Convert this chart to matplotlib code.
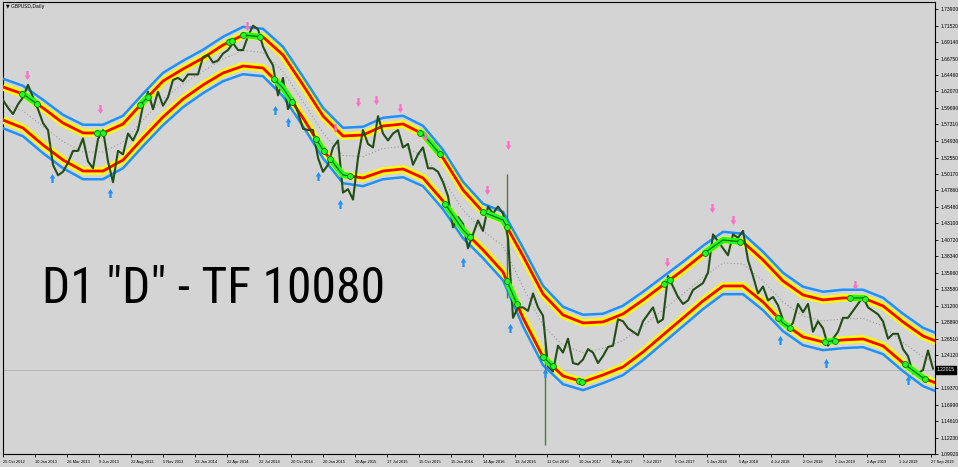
import numpy as np
import matplotlib
matplotlib.use("Agg")
import matplotlib.pyplot as plt
from matplotlib.path import Path
from matplotlib import font_manager

# ---------------- data ----------------
date_labels = ["25 Oct 2012", "10 Jan 2013", "26 Mar 2013", "9 Jun 2013", "22 Aug 2013",
               "5 Nov 2013", "23 Jan 2014", "22 Apr 2014", "22 Jul 2014", "20 Oct 2014",
               "20 Jan 2015", "20 Apr 2015", "17 Jul 2015", "15 Oct 2015", "15 Jan 2016",
               "14 Apr 2016", "13 Jul 2016", "11 Oct 2016", "10 Jan 2017", "10 Apr 2017",
               "7 Jul 2017", "5 Oct 2017", "5 Jan 2018", "5 Apr 2018", "4 Jul 2018",
               "2 Oct 2018", "2 Jan 2019", "2 Apr 2019", "1 Jul 2019", "27 Sep 2019"]
bars_per_label = 64

price_labels = ["1.73900", "1.71520", "1.69140", "1.66750", "1.64460", "1.62070", "1.59690",
                "1.57310", "1.54930", "1.52550", "1.50170", "1.47860", "1.45480", "1.43100",
                "1.40720", "1.38340", "1.35960", "1.33580", "1.31200", "1.28890", "1.26510",
                "1.24120", "1.19370", "1.16990", "1.14610", "1.12230", "1.09920"]

# closing prices, one value every 10 daily bars
close_step = 10
close = [1.608, 1.597, 1.588, 1.602, 1.612, 1.630, 1.612, 1.595, 1.575, 1.565,
         1.515, 1.500, 1.505, 1.518, 1.535, 1.535, 1.553, 1.520, 1.510, 1.552,
         1.565, 1.520, 1.490, 1.535, 1.530, 1.560, 1.550, 1.565, 1.600, 1.620,
         1.595, 1.620, 1.600, 1.612, 1.637, 1.640, 1.635, 1.645, 1.645, 1.645,
         1.670, 1.673, 1.662, 1.665, 1.675, 1.680, 1.690, 1.680, 1.680, 1.700,
         1.715, 1.710, 1.685, 1.670, 1.658, 1.615, 1.640, 1.595, 1.610, 1.590,
         1.567, 1.565, 1.565, 1.525, 1.505, 1.515, 1.540, 1.550, 1.475, 1.480,
         1.465, 1.525, 1.565, 1.545, 1.540, 1.585, 1.560, 1.550, 1.560, 1.565,
         1.540, 1.545, 1.515, 1.530, 1.540, 1.510, 1.510, 1.505, 1.490, 1.470,
         1.425, 1.440, 1.430, 1.395, 1.415, 1.435, 1.420, 1.455, 1.445, 1.455,
         1.445, 1.410, 1.295, 1.310, 1.310, 1.305, 1.330, 1.310, 1.298, 1.225,
         1.218, 1.255, 1.245, 1.265, 1.230, 1.228, 1.235, 1.250, 1.245, 1.230,
         1.240, 1.253, 1.255, 1.293, 1.290, 1.280, 1.275, 1.270, 1.290, 1.300,
         1.310, 1.288, 1.293, 1.355, 1.340, 1.325, 1.315, 1.320, 1.335, 1.340,
         1.345, 1.360, 1.415, 1.405, 1.395, 1.385, 1.415, 1.410, 1.420, 1.378,
         1.355, 1.330, 1.340, 1.320, 1.325, 1.313, 1.292, 1.278, 1.288, 1.315,
         1.303, 1.315, 1.275, 1.290, 1.280, 1.255, 1.265, 1.275, 1.295, 1.295,
         1.305, 1.315, 1.325, 1.310, 1.305, 1.300, 1.290, 1.265, 1.272, 1.272,
         1.250, 1.240, 1.215, 1.215, 1.220, 1.248, 1.222]

# single-day spikes (Brexit vote, flash crash)
spike_bar = [1008, 1084]
spike_high = [1.5018, 1.2620]
spike_low = [1.3229, 1.1123]

# band lines, one value every 40 daily bars
band_step = 40
upper_band = [1.6269, 1.6168, 1.5967, 1.5751, 1.5608, 1.5608, 1.5737, 1.6053, 1.6355, 1.6528,
              1.6686, 1.6873, 1.7016, 1.6988, 1.6729, 1.6298, 1.5852, 1.5564, 1.5579, 1.5708,
              1.5737, 1.5593, 1.5248, 1.4788, 1.4472, 1.4357, 1.3839, 1.3293, 1.2991, 1.2876,
              1.2891, 1.3006, 1.3207, 1.3423, 1.3638, 1.3868, 1.4069, 1.4041, 1.3782, 1.3480,
              1.3279, 1.3207, 1.3236, 1.3236, 1.3121, 1.2891, 1.2689, 1.2574]
lower_band = [1.5794, 1.5679, 1.5435, 1.5219, 1.5061, 1.5061, 1.5219, 1.5536, 1.5838, 1.6096,
              1.6298, 1.6470, 1.6571, 1.6542, 1.6254, 1.5823, 1.5363, 1.5004, 1.4961, 1.5061,
              1.5090, 1.4961, 1.4630, 1.4213, 1.3926, 1.3609, 1.2948, 1.2388, 1.2114, 1.2028,
              1.2129, 1.2244, 1.2459, 1.2704, 1.2948, 1.3193, 1.3408, 1.3408, 1.3178, 1.2876,
              1.2675, 1.2603, 1.2632, 1.2646, 1.2546, 1.2301, 1.2086, 1.1971]
outer_gap = 0.0118

# band-touch highlights (start bar, end bar, band side)
touch_start = [38, 188, 274, 452, 480, 542, 626, 654, 834, 884, 960, 1008, 1080, 1152,
               1322, 1404, 1550, 1644, 1694, 1804]
touch_end = [68, 200, 290, 458, 514, 578, 642, 694, 874, 934, 1008, 1028, 1100, 1158,
             1334, 1474, 1574, 1664, 1724, 1844]
touch_side = ["u", "u", "u", "u", "u", "l", "l", "l", "u", "l", "u", "l", "l", "l",
              "u", "u", "l", "l", "u", "l"]

# signal arrows (bar index, price level)
sell_bar = [48, 194, 488, 664, 710, 746, 794, 844, 968, 1010, 1328, 1418, 1460, 1704]
sell_price = [1.6441, 1.5952, 1.7150, 1.5679, 1.6053, 1.6082, 1.5967, 1.5550, 1.4788, 1.5435,
              1.3753, 1.4529, 1.4357, 1.3422]
buy_bar = [98, 214, 544, 570, 630, 674, 920, 1014, 1084, 1554, 1646, 1810]
buy_price = [1.4961, 1.4745, 1.5938, 1.5766, 1.4989, 1.4587, 1.3753, 1.2805, 1.2158, 1.2632,
             1.2301, 1.2057]

last_price = 1.2201
last_price_text = "1.22015"

# ---------------- drawing ----------------
bg = "#d4d4d4"
W, H = 958, 467
fig = plt.figure(figsize=(W / 100, H / 100), dpi=100, facecolor=bg)
L, R, T, B = 3, 935, 2, 454
ax = fig.add_axes([L / W, (H - B) / H, (R - L) / W, (B - T) / H])
ax.set_facecolor(bg)
ax.set_xlim(0, (R - L) * 2)
ax.set_ylim(1.0993, 1.7491)

xc = np.arange(len(close)) * close_step
xb = np.arange(len(upper_band)) * band_step
ub = np.array(upper_band)
lb = np.array(lower_band)
mid = (ub + lb) / 2
closes = np.array(close)

# current price line
ax.axhline(last_price, color="#b8b8b8", lw=0.8, zorder=1)
# centre dotted line
ax.plot(xb, mid, color="#9c9c9c", lw=0.8, ls=(0, (1, 2)), zorder=2)

# bands
for arr in (ub, lb):
    ax.plot(xb, arr, color="#ffff00", lw=5.5, solid_capstyle="butt", solid_joinstyle="round", zorder=3)
    ax.plot(xb, arr, color="#ff0000", lw=2, solid_capstyle="butt", zorder=4)
ax.plot(xb, ub + outer_gap, color="#1e90ff", lw=1.8, zorder=3)
ax.plot(xb, lb - outer_gap, color="#1e90ff", lw=1.8, zorder=3)

# price
ax.vlines(spike_bar, spike_low, spike_high, color="#4f7a3f", lw=1.0, zorder=5)
ax.plot(xc, closes, color="#234d16", lw=1.5, zorder=6)

# band-touch highlights drawn on the band
for s, e, side in zip(touch_start, touch_end, touch_side):
    band = ub if side == "u" else lb
    xs = np.concatenate([[s], xb[(xb > s) & (xb < e)], [e]])
    ys = np.interp(xs, xb, band)
    ax.plot(xs, ys, color="#22ff22", lw=4.5, solid_capstyle="round", zorder=7)
    ax.plot(xs, ys, color="#0a6a0a", lw=0.9, zorder=8)
    ax.plot([xs[0], xs[-1]], [ys[0], ys[-1]], ls="none", marker="o", ms=4.2,
            mfc="#22ff22", mec="#0a6a0a", mew=0.6, zorder=8)

# arrows
arrow_down = Path([(-0.25, 1), (0.25, 1), (0.25, 0), (0.62, 0), (0, -1), (-0.62, 0), (-0.25, 0), (-0.25, 1)],
                  [Path.MOVETO] + [Path.LINETO] * 6 + [Path.CLOSEPOLY])
arrow_up = Path([(-0.25, -1), (0.25, -1), (0.25, 0), (0.62, 0), (0, 1), (-0.62, 0), (-0.25, 0), (-0.25, -1)],
                [Path.MOVETO] + [Path.LINETO] * 6 + [Path.CLOSEPOLY])
ax.scatter(sell_bar, sell_price, marker=arrow_down, s=42, color="#ff6ec7", lw=0, zorder=9)
ax.scatter(buy_bar, buy_price, marker=arrow_up, s=42, color="#1e90ff", lw=0, zorder=9)

# axes styling
for sp in ax.spines.values():
    sp.set_color("#000000")
    sp.set_linewidth(0.8)
small_font = "Liberation Sans"
ax.yaxis.tick_right()
ax.set_yticks([float(v) for v in price_labels])
ax.set_yticklabels(price_labels, fontsize=3.6, family=small_font)
ax.set_xticks(np.arange(len(date_labels)) * bars_per_label)
ax.set_xticklabels(date_labels, ha="left", fontsize=2.9, family=small_font)
ax.tick_params(axis="both", length=2.5, width=0.6, color="#000000")
ax.tick_params(axis="x", pad=1.5)
ax.tick_params(axis="y", pad=1.5)

# title
ax.text(0.003, 0.996, "\u25bc GBPUSD,Daily", transform=ax.transAxes, fontsize=3.4,
        va="top", ha="left", color="#000000", family=["DejaVu Sans"])

# big label: narrow face if available, fitted to its width in the reference
names = {f.name for f in font_manager.fontManager.ttflist}
big_font = "Liberation Sans"
for cand in ["Liberation Sans Narrow", "Roboto Condensed", "Open Sans Condensed"]:
    if cand in names:
        big_font = cand
        break
big = ax.text((42 - L) / (R - L), (B - 303) / (B - T), "D1 \"D\" - TF 10080", transform=ax.transAxes,
              fontsize=30, va="baseline", ha="left", color="#000000", family=big_font)
fig.canvas.draw()
w = big.get_window_extent().width
big.set_fontsize(30 * 343.0 / w)

# last price box
ax.annotate(last_price_text, xy=(1.0, last_price), xycoords=("axes fraction", "data"),
            xytext=(1.5, 0), textcoords="offset points", fontsize=3.6, color="white",
            va="center", ha="left", family=small_font,
            bbox=dict(boxstyle="square,pad=0.25", fc="black", ec="black"))

fig.savefig("out.png", dpi=100, facecolor=bg)
